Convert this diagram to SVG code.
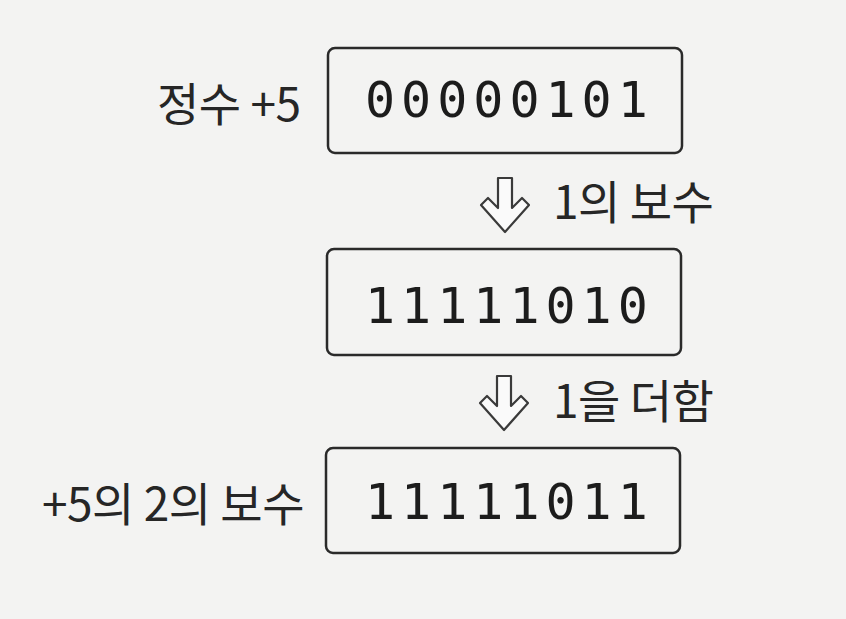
<svg xmlns="http://www.w3.org/2000/svg" width="846" height="619" viewBox="0 0 846 619">
<style>
.box{fill:none;stroke:#2a2a2a;stroke-width:2.5}
.bin{font-family:"DejaVu Sans Mono","Liberation Mono",monospace;font-size:50px;fill:#1c1c1c;letter-spacing:6px}
.lbl{font-family:"Noto Sans CJK KR","Noto Sans",sans-serif;font-size:46px;fill:#262626;letter-spacing:-0.5px}
.arr{fill:#fafafa;stroke:#3a3a3a;stroke-width:2.2;stroke-linejoin:round}
</style>
<rect width="846" height="619" fill="#f3f3f2"/>
<g id="node1">
<rect class="box" x="328" y="48" width="354" height="105" rx="7"/>
<text class="bin" x="365" y="117">00000101</text>
</g>
<g id="label1"><text class="lbl" x="157" y="121">정수 +5</text></g>
<g id="node2">
<rect class="box" x="327" y="249" width="354" height="106" rx="7"/>
<text class="bin" x="365" y="323">11111010</text>
</g>
<g id="node3">
<rect class="box" x="326" y="448" width="354" height="105" rx="7"/>
<text class="bin" x="365" y="519">11111011</text>
</g>
<g id="label3"><text class="lbl" x="42" y="521">+5의 2의 보수</text></g>
<g id="connectors">
<path class="arr" d="M498 178 L512 178 L512 208 L522 198 L529 205 L505 232 L481 205 L488 198 L498 208 Z"/>
<text class="lbl" x="553" y="219">1의 보수</text>
<path class="arr" d="M497 376 L511 376 L511 406 L521 396 L528 403 L504 430 L480 403 L487 396 L497 406 Z"/>
<text class="lbl" x="553" y="418">1을 더함</text>
</g>
</svg>
